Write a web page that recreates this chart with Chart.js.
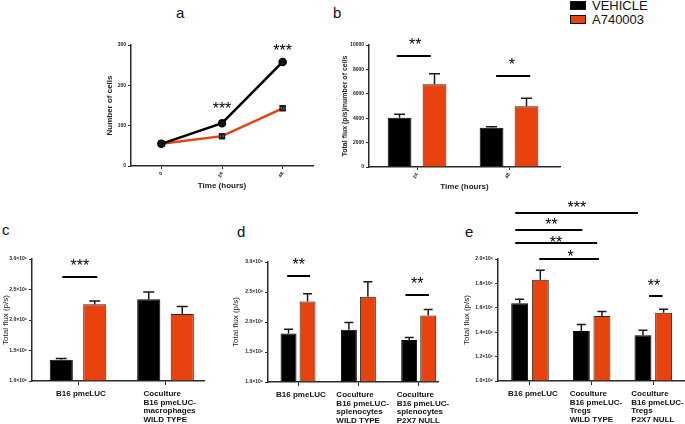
<!DOCTYPE html>
<html>
<head>
<meta charset="utf-8">
<script src="https://cdn.jsdelivr.net/npm/chart.js@4.4.1/dist/chart.umd.min.js"></script>
<style>
  body { margin: 0; background: #fff; width: 685px; height: 424px; position: relative; overflow: hidden;
         font-family: "Liberation Sans", Arial, sans-serif; color: #111; }
  canvas { position: absolute; left: 0; top: 0; }
  .lab { position: absolute; font-size: 15px; line-height: 15px; }
  .key { position: absolute; left: 570px; width: 16px; height: 9px; border: 1px solid #111; box-sizing: border-box; }
  .ktxt { position: absolute; left: 592px; font-size: 13px; line-height: 13px; }
</style>
</head>
<body>
<div class="lab" style="left:176px;top:5px">a</div>
<div class="lab" style="left:333px;top:5px">b</div>
<div class="lab" style="left:2px;top:222px">c</div>
<div class="lab" style="left:237px;top:224px">d</div>
<div class="lab" style="left:465px;top:224px">e</div>

<div class="key" style="top:1px;background:#000"></div>
<div class="ktxt" style="top:-1px">VEHICLE</div>
<div class="key" style="top:15px;background:#e8420e"></div>
<div class="ktxt" style="top:13px">A740003</div>

<canvas id="chartA" width="685" height="424"></canvas>
<canvas id="chartB" width="685" height="424"></canvas>
<canvas id="chartC" width="685" height="424"></canvas>
<canvas id="chartD" width="685" height="424"></canvas>
<canvas id="chartE" width="685" height="424"></canvas>

<script>
// ---- data ----
const timeLabels = ["0", "24", "48"];
const cellsVehicle = [55, 106, 258];
const cellsVehicleErr = [4, 3, 5];
const cellsDrug = [55, 74, 143];
const cellsDrugErr = [4, 4, 5];

const fluxTimes = ["24", "48"];
const fluxVehicle = [4040, 3220];
const fluxVehicleErr = [280, 80];
const fluxDrug = [6780, 4970];
const fluxDrugErr = [870, 660];

const groupsC = ["B16 pmeLUC", ["Coculture", "B16 pmeLUC-", "macrophages", "WILD TYPE"]];
const vehicleC = [1.35, 2.34];
const vehicleErrC = [0.02, 0.12];
const drugC = [2.26, 2.10];
const drugErrC = [0.05, 0.12];

const groupsD = ["B16 pmeLUC", ["Coculture", "B16 pmeLUC-", "splenocytes", "WILD TYPE"],
                 ["Coculture", "B16 pmeLUC-", "splenocytes", "P2X7 NULL"]];
const vehicleD = [1.81, 1.87, 1.70];
const vehicleErrD = [0.07, 0.12, 0.04];
const drugD = [2.34, 2.42, 2.11];
const drugErrD = [0.13, 0.25, 0.10];

const groupsE = ["B16 pmeLUC", ["Coculture", "B16 pmeLUC-", "Tregs", "WILD TYPE"],
                 ["Coculture", "B16 pmeLUC-", "Tregs", "P2X7 NULL"]];
const vehicleE = [1.637, 1.41, 1.375];
const vehicleErrE = [0.033, 0.053, 0.041];
const drugE = [1.83, 1.533, 1.56];
const drugErrE = [0.077, 0.036, 0.028];

// significance marks: lines [fromIndex, toIndex, value], stars [text, index, value]
const starsA = [["***", 1, 151], ["***", 2, 297]];
const linesB = [[-0.22, 0.15, 9120], [0.86, 1.23, 7430]];
const starsB = [["**", -0.02, 10350], ["*", 1.03, 8690]];
const linesC = [[-0.18, 0.22, 2.71]];
const starsC = [["***", 0.02, 2.956]];
const linesD = [[-0.18, 0.2, 2.77], [1.78, 2.17, 2.45]];
const starsD = [["**", 0.01, 3.03], ["**", 1.975, 2.70]];
const linesE = [[-0.24, 1.75, 2.379], [-0.24, 0.85, 2.239], [-0.24, 1.09, 2.132], [0.15, 1.12, 2.0], [1.93, 2.15, 1.695]];
const starsE = [["***", 0.76, 2.456], ["**", 0.35, 2.31], ["**", 0.42, 2.167], ["*", 0.66, 2.049], ["**", 2.01, 1.815]];

const FONT = '"Liberation Sans", Arial, sans-serif';
const ORANGE = "#e8420e";
const AXIS = "#2b2b2b";

function errorBars(cap, both) {
  return {
    id: "errorBars",
    afterDatasetsDraw(chart) {
      const { ctx, scales: { y } } = chart;
      ctx.save();
      ctx.strokeStyle = "#1a1a1a";
      ctx.lineWidth = 1.5;
      chart.data.datasets.forEach((ds, i) => {
        chart.getDatasetMeta(i).data.forEach((el, j) => {
          const raw = ds.data[j];
          const v = typeof raw === "object" ? raw.y : raw;
          const top = y.getPixelForValue(v + ds.errors[j]);
          const bot = both ? y.getPixelForValue(v - ds.errors[j]) : el.y;
          ctx.beginPath();
          ctx.moveTo(el.x, bot);
          ctx.lineTo(el.x, top);
          ctx.moveTo(el.x - cap / 2, top);
          ctx.lineTo(el.x + cap / 2, top);
          if (both) {
            ctx.moveTo(el.x - cap / 2, bot);
            ctx.lineTo(el.x + cap / 2, bot);
          }
          ctx.stroke();
        });
      });
      ctx.restore();
    }
  };
}

function sigMarks(lines, stars) {
  return {
    id: "sigMarks",
    afterDraw(chart) {
      const { ctx, scales: { x, y } } = chart;
      ctx.save();
      ctx.strokeStyle = "#000";
      ctx.lineWidth = 2;
      lines.forEach(([a, b, v]) => {
        const py = Math.round(y.getPixelForValue(v));
        ctx.beginPath();
        ctx.moveTo(x.getPixelForValue(a), py);
        ctx.lineTo(x.getPixelForValue(b), py);
        ctx.stroke();
      });
      ctx.fillStyle = "#000";
      ctx.font = "16px " + FONT;
      ctx.textAlign = "center";
      ctx.textBaseline = "alphabetic";
      stars.forEach(([t, a, v]) => ctx.fillText(t, x.getPixelForValue(a), y.getPixelForValue(v) + 9.3));
      ctx.restore();
    }
  };
}

function yAxis(o) {
  return {
    min: o.min, max: o.max,
    border: { color: AXIS, width: 1.5 },
    grid: { drawOnChartArea: false, drawTicks: true, tickLength: 3, color: AXIS },
    ticks: { stepSize: o.step, color: "#222", padding: 2, font: { family: FONT, size: 5, weight: "bold" },
             callback: o.fmt },
    title: { display: true, text: o.title, color: "#222", padding: { top: 1, bottom: 1 },
             font: { family: FONT, size: o.titleSize, weight: o.titleWeight } },
    afterFit(s) { s.width = o.width; s.paddingTop = 0; s.paddingBottom = 0; }
  };
}

function groupAxis(o) {
  return {
    type: "linear", min: o.min, max: o.max, offset: false,
    border: { color: AXIS, width: 1.5 },
    grid: { drawOnChartArea: false, drawTicks: true, tickLength: 4, color: AXIS, offset: false },
    ticks: { stepSize: 1, includeBounds: false, autoSkip: false, color: "#111", align: "start",
             labelOffset: -22, padding: 5, maxRotation: 0,
             font: { family: FONT, size: 8, weight: "bold", lineHeight: 1.05 },
             callback: (v) => o.labels[v] },
    afterFit(s) { s.height = o.height; s.paddingLeft = 0; s.paddingRight = 0; }
  };
}

const sciFmt = (v) => v.toFixed(1) + "×10⁶";

function barPanel(id, o) {
  const ds = (vals, errs, color, border) => ({
    data: vals.map((v, i) => ({ x: i, y: v })),
    errors: errs,
    backgroundColor: color,
    borderColor: border,
    borderWidth: 1,
    base: o.y.min,
    barPercentage: o.barPct,
    categoryPercentage: o.catPct
  });
  return new Chart(document.getElementById(id), {
    type: "bar",
    data: { datasets: [ds(o.vehicle, o.vehicleErr, "#000", "#000"), ds(o.drug, o.drugErr, ORANGE, "#262626")] },
    options: {
      responsive: false, animation: false, events: [],
      layout: { padding: o.pad },
      plugins: { legend: { display: false }, tooltip: { enabled: false } },
      scales: { x: o.x, y: yAxis(o.y) }
    },
    plugins: [errorBars(o.cap, false), sigMarks(o.lines, o.stars)]
  });
}

// ---- a: number of cells ----
new Chart(document.getElementById("chartA"), {
  type: "line",
  data: {
    labels: timeLabels,
    datasets: [
      { data: cellsVehicle, errors: cellsVehicleErr, borderColor: "#000", borderWidth: 2.5,
        pointStyle: "circle", pointRadius: 3, pointBackgroundColor: "#000", pointBorderColor: "#000" },
      { data: cellsDrug, errors: cellsDrugErr, borderColor: ORANGE, borderWidth: 2.5,
        pointStyle: "rect", pointRadius: 3.5, pointBackgroundColor: "#777", pointBorderColor: "#222", pointBorderWidth: 1.5 }
    ]
  },
  options: {
    responsive: false, animation: false, events: [],
    layout: { padding: { left: 104, top: 45, right: 372, bottom: 232 } },
    plugins: { legend: { display: false }, tooltip: { enabled: false } },
    scales: {
      x: {
        offset: true,
        border: { color: AXIS, width: 1.5 },
        grid: { drawOnChartArea: false, drawTicks: true, tickLength: 3, color: AXIS, offset: false },
        ticks: { minRotation: 60, maxRotation: 60, padding: 2, color: "#222", font: { family: FONT, size: 5, weight: "bold" } },
        title: { display: true, text: "Time (hours)", color: "#222", padding: { top: 1, bottom: 1 },
                 font: { family: FONT, size: 8, weight: "bold" } },
        afterFit(s) { s.height = 26; s.paddingLeft = 0; s.paddingRight = 0; }
      },
      y: yAxis({ min: 0, max: 300, step: 100, fmt: (v) => String(v), title: "Number of cells",
                 titleSize: 8, titleWeight: "bold", width: 27 })
    }
  },
  plugins: [errorBars(6, true), sigMarks([], starsA)]
});

// ---- b: flux per cell ----
barPanel("chartB", {
  vehicle: fluxVehicle, vehicleErr: fluxVehicleErr, drug: fluxDrug, drugErr: fluxDrugErr,
  pad: { left: 340, top: 45, right: 125, bottom: 231 },
  barPct: 0.68, catPct: 0.76, cap: 11,
  lines: linesB, stars: starsB,
  y: { min: 0, max: 10000, step: 2000, fmt: (v) => String(v), title: "Total flux (p/s)/number of cells",
       titleSize: 7, titleWeight: "bold", width: 29 },
  x: {
    type: "linear", min: -0.522, max: 1.554, offset: false,
    border: { color: AXIS, width: 1.5 },
    grid: { drawOnChartArea: false, drawTicks: true, tickLength: 3, color: AXIS, offset: false },
    ticks: { stepSize: 1, includeBounds: false, autoSkip: false, minRotation: 60, maxRotation: 60, padding: 2,
             color: "#222", font: { family: FONT, size: 5, weight: "bold" }, callback: (v) => fluxTimes[v] },
    title: { display: true, text: "Time (hours)", color: "#222", padding: { top: 1, bottom: 1 },
             font: { family: FONT, size: 8, weight: "bold" } },
    afterFit(s) { s.height = 26; s.paddingLeft = 0; s.paddingRight = 0; }
  }
});

// ---- c: macrophages ----
barPanel("chartC", {
  vehicle: vehicleC, vehicleErr: vehicleErrC, drug: drugC, drugErr: drugErrC,
  pad: { left: 0, top: 259, right: 481, bottom: 0 },
  barPct: 0.69, catPct: 0.766, cap: 11,
  lines: linesC, stars: starsC,
  y: { min: 1, max: 3, step: 0.5, fmt: sciFmt, title: "Total flux (p/s)", titleSize: 8, titleWeight: "normal", width: 32 },
  x: groupAxis({ min: -0.526, max: 1.44, labels: groupsC, height: 43 })
});

// ---- d: splenocytes ----
barPanel("chartD", {
  vehicle: vehicleD, vehicleErr: vehicleErrD, drug: drugD, drugErr: drugErrD,
  pad: { left: 230, top: 262, right: 247, bottom: 0 },
  barPct: 0.84, catPct: 0.63, cap: 9,
  lines: linesD, stars: starsD,
  y: { min: 1, max: 3, step: 0.5, fmt: sciFmt, title: "Total flux (p/s)", titleSize: 8, titleWeight: "normal", width: 38 },
  x: groupAxis({ min: -0.498, max: 2.32, labels: groupsD, height: 42 })
});

// ---- e: Tregs ----
barPanel("chartE", {
  vehicle: vehicleE, vehicleErr: vehicleErrE, drug: drugE, drugErr: drugErrE,
  pad: { left: 461, top: 259, right: 1, bottom: 0 },
  barPct: 0.82, catPct: 0.67, cap: 9,
  lines: linesE, stars: starsE,
  y: { min: 1, max: 2, step: 0.2, fmt: sciFmt, title: "Total flux (p/s)", titleSize: 8, titleWeight: "normal", width: 37 },
  x: groupAxis({ min: -0.519, max: 2.498, labels: groupsE, height: 43 })
});
</script>
</body>
</html>
